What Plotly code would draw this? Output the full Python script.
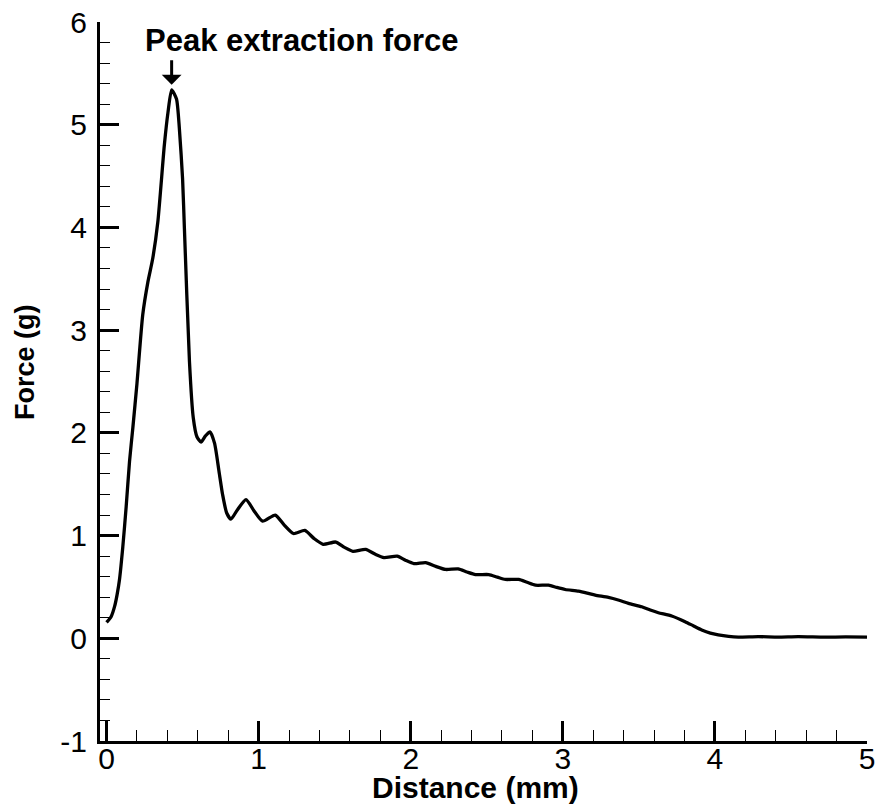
import plotly.graph_objects as go

distance_mm = [0.000, 0.030, 0.053, 0.070, 0.085, 0.107, 0.129, 0.151, 0.173, 0.200,
               0.238, 0.272, 0.304, 0.337, 0.380, 0.404, 0.428, 0.460, 0.479, 0.500,
               0.512, 0.545, 0.570, 0.595, 0.621, 0.650, 0.680, 0.710, 0.740, 0.763,
               0.790, 0.818, 0.860, 0.917, 0.970, 1.026, 1.109, 1.170, 1.229, 1.304,
               1.365, 1.424, 1.507, 1.565, 1.620, 1.704, 1.765, 1.824, 1.911, 1.965,
               2.021, 2.098, 2.165, 2.229, 2.312, 2.370, 2.426, 2.513, 2.570, 2.622,
               2.710, 2.765, 2.820, 2.906, 2.960, 3.016, 3.103, 3.160, 3.213, 3.300,
               3.370, 3.432, 3.519, 3.575, 3.628, 3.716, 3.804, 3.860, 3.913, 3.970,
               4.022, 4.090, 4.154, 4.285, 4.416, 4.547, 4.722, 4.860, 5.000]
force_g = [0.155, 0.21, 0.31, 0.43, 0.57, 0.89, 1.28, 1.72, 2.05, 2.48,
           3.15, 3.47, 3.70, 4.05, 4.80, 5.12, 5.34, 5.25, 4.96, 4.47,
           3.99, 2.70, 2.15, 1.96, 1.91, 1.97, 2.01, 1.90, 1.62, 1.40,
           1.22, 1.16, 1.25, 1.35, 1.24, 1.14, 1.20, 1.10, 1.02, 1.05,
           0.97, 0.915, 0.937, 0.885, 0.847, 0.866, 0.82, 0.786, 0.80, 0.76,
           0.727, 0.737, 0.70, 0.67, 0.675, 0.645, 0.620, 0.620, 0.595, 0.573,
           0.573, 0.545, 0.517, 0.517, 0.495, 0.475, 0.459, 0.44, 0.42, 0.398,
           0.37, 0.34, 0.307, 0.275, 0.249, 0.217, 0.162, 0.12, 0.081, 0.05,
           0.033, 0.018, 0.011, 0.016, 0.011, 0.016, 0.011, 0.013, 0.011]

x_ticks = [0, 1, 2, 3, 4, 5]
y_ticks = [-1, 0, 1, 2, 3, 4, 5, 6]

FONT = "Arial, Liberation Sans, sans-serif"

fig = go.Figure()
fig.add_trace(go.Scatter(x=distance_mm, y=force_g, mode="lines",
                         line=dict(color="black", width=3.3, shape="spline", smoothing=0.6),
                         showlegend=False, hoverinfo="skip", cliponaxis=False))

axis_common = dict(
    showgrid=False, zeroline=False, showline=True, linecolor="black", linewidth=3,
    ticks="inside", tickcolor="black", tickwidth=3, mirror=False, automargin=False,
    tickfont=dict(family=FONT, size=30, color="black"),
)

fig.update_xaxes(range=[-0.043, 5.0], tickvals=x_ticks, ticktext=[str(v) for v in x_ticks],
                 ticklen=20, ticklabelstandoff=-11,
                 minor=dict(ticks="inside", ticklen=11, tickwidth=1, tickcolor="black", dtick=0.2, showgrid=False),
                 **axis_common)
fig.update_yaxes(range=[-1, 6], tickvals=y_ticks, ticktext=[str(v) for v in y_ticks],
                 ticklen=19, ticklabelstandoff=4,
                 minor=dict(ticks="inside", ticklen=10, tickwidth=1, tickcolor="black", dtick=0.2, showgrid=False),
                 **axis_common)

# peak arrow
fig.add_annotation(x=0.428, y=5.39, xref="x", yref="y", text="", showarrow=True,
                   arrowhead=1, arrowsize=1.1, arrowwidth=3, arrowcolor="black",
                   ax=0, ay=-26)
fig.add_annotation(x=1.283, y=5.82, xref="x", yref="y", text="<b>Peak extraction force</b>",
                   showarrow=False, font=dict(family=FONT, size=31, color="black"),
                   xanchor="center", yanchor="middle")
# axis titles
fig.add_annotation(x=0.489, y=-0.064, xref="paper", yref="paper", text="<b>Distance (mm)</b>",
                   showarrow=False, font=dict(family=FONT, size=30, color="black"),
                   xanchor="center", yanchor="middle")
fig.add_annotation(x=-0.098, y=0.527, xref="paper", yref="paper", text="<b>Force (g)</b>",
                   showarrow=False, textangle=-90, font=dict(family=FONT, size=27, color="black"),
                   xanchor="center", yanchor="middle")

fig.update_layout(width=879, height=811, margin=dict(l=100, r=12, t=22, b=70),
                  plot_bgcolor="white", paper_bgcolor="white",
                  font=dict(family=FONT, color="black"))

fig.write_html("out.html")
